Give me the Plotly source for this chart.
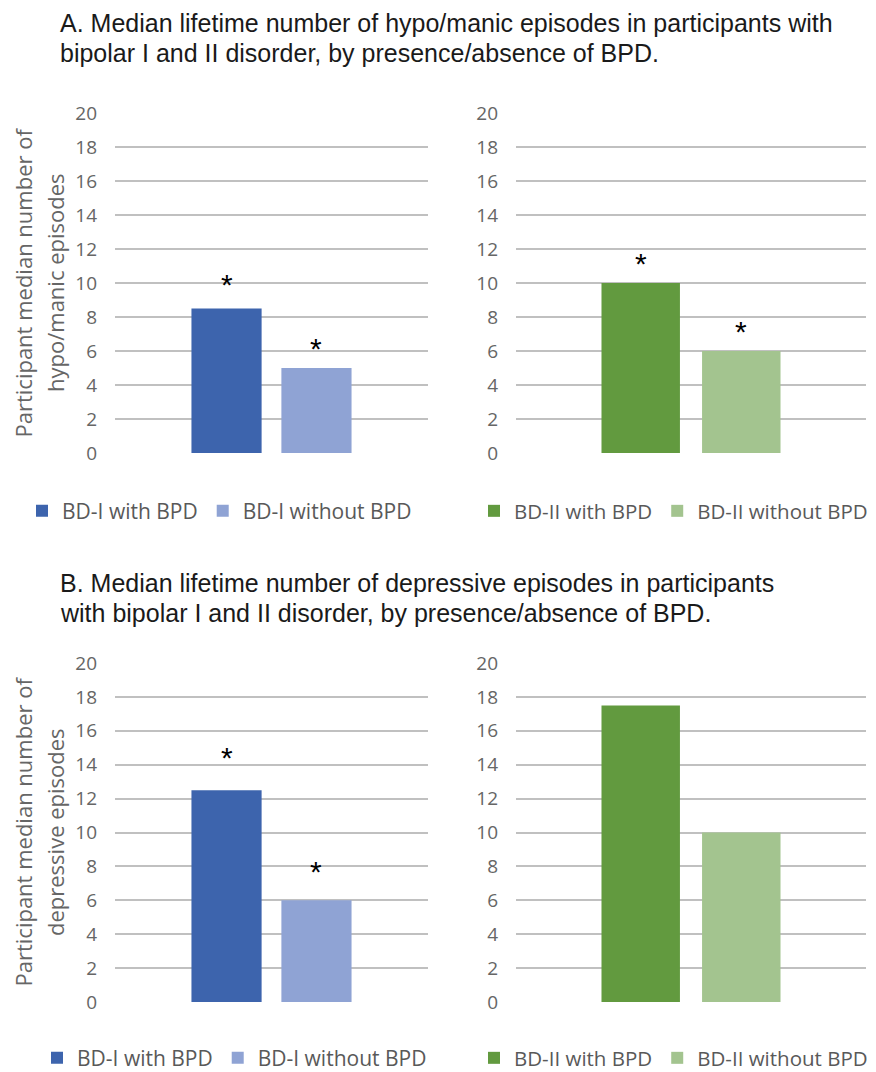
import plotly.graph_objects as go

W, H = 876, 1072
OFF = 8  # page body margin of the browser

# ---------------- data ----------------
groups_bd1 = ["BD-I with BPD", "BD-I without BPD"]
groups_bd2 = ["BD-II with BPD", "BD-II without BPD"]

manic_bd1 = [8.5, 5]      # panel A, bipolar I
manic_bd2 = [10, 6]       # panel A, bipolar II
dep_bd1 = [12.5, 6]       # panel B, bipolar I
dep_bd2 = [17.5, 10]      # panel B, bipolar II

# heights of significance asterisks as they appear in the picture
manic_bd1_star = [10.1, 6.3]
manic_bd2_star = [11.35, 7.35]
dep_bd1_star = [14.6, 7.9]
dep_bd2_star = []

y_ticks = list(range(0, 21, 2))

title_a = ["A. Median lifetime number of hypo/manic episodes in participants with",
           "bipolar I and II disorder, by presence/absence of BPD."]
title_b = ["B. Median lifetime number of depressive episodes in participants",
           "with bipolar I and II disorder, by presence/absence of BPD."]
ytitle_a = ["Participant median number of", "hypo/manic episodes"]
ytitle_b = ["Participant median number of", "depressive episodes"]

colors_bd1 = ["#3D64AD", "#8FA3D4"]
colors_bd2 = ["#629A3F", "#A3C48F"]

# ---------------- layout helpers (screen pixels -> paper fraction) ----------------
def px_x(p):
    return (p - OFF) / W

def px_y(p):
    return 1 - (p - OFF) / H

TICK_FONT = dict(family="Open Sans", size=19, color="#666666")
TXT_FONT = dict(family="Liberation Sans", size=25, color="#1a1a1a")
GRID = "#C0C0C0"

panels = [
    # axis suffix, categories, values, stars, colors, legend id, x px, y px, legend pos, legend font size
    ("", groups_bd1, manic_bd1, manic_bd1_star, colors_bd1, "legend", (115, 428), (113, 453), (22, 511), 21),
    ("2", groups_bd2, manic_bd2, manic_bd2_star, colors_bd2, "legend2", (516, 866), (113, 453), (474, 511), 20.5),
    ("3", groups_bd1, dep_bd1, dep_bd1_star, colors_bd1, "legend3", (115, 428), (663, 1002), (37, 1058), 21),
    ("4", groups_bd2, dep_bd2, dep_bd2_star, colors_bd2, "legend4", (516, 866), (663, 1002), (474, 1058), 20.5),
]

fig = go.Figure()
annotations = []
layout = dict(
    width=W, height=H,
    margin=dict(l=0, r=0, t=0, b=0, autoexpand=False),
    paper_bgcolor="white", plot_bgcolor="white",
    barmode="overlay",
    showlegend=True,
)

for suf, cats, vals, stars, cols, leg, (x0, x1), (y0, y1), (lx, ly), lfs in panels:
    xa, ya = "x" + suf, "y" + suf
    for i in range(2):
        fig.add_trace(go.Bar(
            x=[cats[i]], y=[vals[i]], name=cats[i],
            marker=dict(color=cols[i], line=dict(width=0)),
            width=0.78, xaxis=xa, yaxis=ya, legend=leg,
        ))
    for i, s in enumerate(stars):
        annotations.append(dict(
            x=cats[i], y=s, xref=xa, yref=ya, text="*", showarrow=False,
            xanchor="center", yanchor="middle", yshift=-3,
            font=dict(family="Liberation Sans", size=30, color="black"),
        ))
    layout["xaxis" + suf] = dict(
        domain=[px_x(x0), px_x(x1)], anchor=ya, type="category",
        categoryarray=cats, categoryorder="array", range=[-1.24, 2.24],
        showticklabels=False, showgrid=False, zeroline=False, showline=False,
        fixedrange=True,
    )
    layout["yaxis" + suf] = dict(
        domain=[px_y(y1), px_y(y0)], anchor=xa, range=[0, 20],
        tickvals=y_ticks, ticks="", showline=False, zeroline=False,
        showgrid=True, gridcolor=GRID, gridwidth=2,
        tickfont=TICK_FONT, ticklabelstandoff=17, fixedrange=True,
    )
    layout[leg] = dict(
        orientation="h", x=px_x(lx), y=px_y(ly), xanchor="left", yanchor="middle",
        font=dict(family="Open Sans", size=lfs, color="#595959"),
        bgcolor="rgba(0,0,0,0)", borderwidth=0,
        traceorder="normal", itemclick=False,
    )

# titles
for lines, ys in ((title_a, (22.5, 53)), (title_b, (582.5, 613))):
    for t, yy in zip(lines, ys):
        annotations.append(dict(
            x=px_x(58), y=px_y(yy), xref="paper", yref="paper", text=t,
            showarrow=False, xanchor="left", yanchor="middle", font=TXT_FONT,
        ))

# y-axis titles (two rotated lines)
for lines, yc in ((ytitle_a, 283), (ytitle_b, 832)):
    for t, xx in zip(lines, (22.5, 55)):
        annotations.append(dict(
            x=px_x(xx), y=px_y(yc), xref="paper", yref="paper", text=t,
            textangle=-90, showarrow=False, xanchor="center", yanchor="middle",
            borderpad=0,
            font=dict(family="Open Sans", size=22, color="#666666"),
        ))

layout["annotations"] = annotations
fig.update_layout(**layout)
fig.write_html("out.html")
